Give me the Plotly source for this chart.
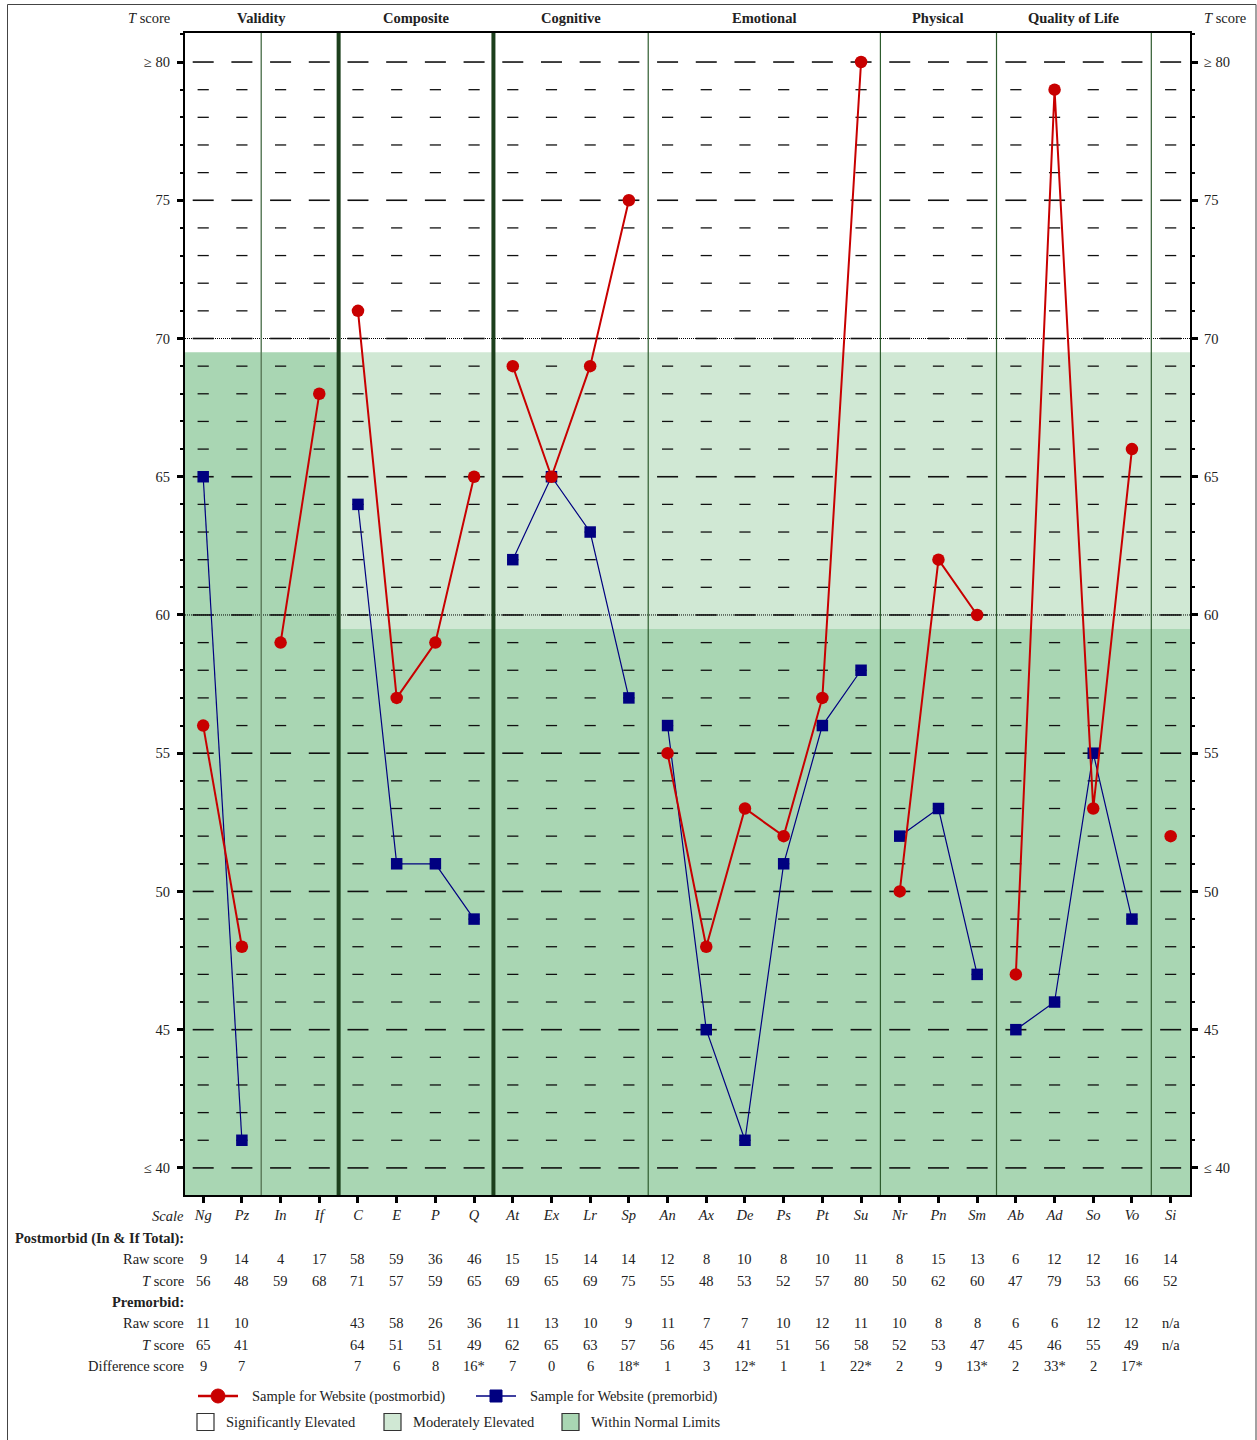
import plotly.graph_objects as go

# ---------------- data ----------------
scales = ["Ng", "Pz", "In", "If", "C", "E", "P", "Q", "At", "Ex", "Lr", "Sp",
          "An", "Ax", "De", "Ps", "Pt", "Su", "Nr", "Pn", "Sm", "Ab", "Ad", "So", "Vo", "Si"]
group_names = ["Validity", "Composite", "Cognitive", "Emotional", "Physical", "Quality of Life"]
group_centers = [1.5, 5.5, 9.5, 14.5, 19, 22.5]
line_segments = [(0, 1), (2, 3), (4, 7), (8, 11), (12, 17), (18, 20), (21, 24), (25, 25)]

post_raw = [9, 14, 4, 17, 58, 59, 36, 46, 15, 15, 14, 14, 12, 8, 10, 8, 10, 11, 8, 15, 13, 6, 12, 12, 16, 14]
post_t = [56, 48, 59, 68, 71, 57, 59, 65, 69, 65, 69, 75, 55, 48, 53, 52, 57, 80, 50, 62, 60, 47, 79, 53, 66, 52]
pre_raw = [11, 10, None, None, 43, 58, 26, 36, 11, 13, 10, 9, 11, 7, 7, 10, 12, 11, 10, 8, 8, 6, 6, 12, 12, "n/a"]
pre_t = [65, 41, None, None, 64, 51, 51, 49, 62, 65, 63, 57, 56, 45, 41, 51, 56, 58, 52, 53, 47, 45, 46, 55, 49, None]
pre_t_text = [65, 41, None, None, 64, 51, 51, 49, 62, 65, 63, 57, 56, 45, 41, 51, 56, 58, 52, 53, 47, 45, 46, 55, 49, "n/a"]
diff_score = ["9", "7", "", "", "7", "6", "8", "16*", "7", "0", "6", "18*", "1", "3", "12*", "1", "1",
              "22*", "2", "9", "13*", "2", "33*", "2", "17*", ""]

y_tickvals = [40, 45, 50, 55, 60, 65, 70, 75, 80]
y_ticktext = ["\u2264 40", "45", "50", "55", "60", "65", "70", "75", "\u2265 80"]

legend_series = ["Sample for Website (postmorbid)", "Sample for Website (premorbid)"]
legend_zones = ["Significantly Elevated", "Moderately Elevated", "Within Normal Limits"]

# ---------------- style ----------------
W, H = 1257, 1440
L, R, T, B = 185, 1190, 33, 1195
FONT = "Liberation Serif"
FS = 14.5
RED = "#c80000"
BLUE = "#000080"
DARK_G = "#a9d6b3"
LIGHT_G = "#d0e8d4"
XR = [-0.47, 25.5]
YR = [39.02, 81.05]


def px(x):
    return (x - L) / (R - L)


def py(y):
    return (B - y) / (B - T)


fig = go.Figure()

# dash grid inside every column
maj_x, maj_y, min_x, min_y = [], [], [], []
for i in range(len(scales)):
    for v in range(40, 81):
        if v % 5 == 0:
            maj_x.append(i); maj_y.append(v)
        else:
            min_x.append(i); min_y.append(v)
fig.add_trace(go.Scatter(x=maj_x, y=maj_y, mode="markers", hoverinfo="skip", showlegend=False,
                         marker=dict(symbol="line-ew", size=15, line=dict(width=1.6, color="#111"))))
fig.add_trace(go.Scatter(x=min_x, y=min_y, mode="markers", hoverinfo="skip", showlegend=False,
                         marker=dict(symbol="line-ew", size=8, line=dict(width=1.3, color="#111"))))


def seg_xy(vals):
    xs, ys = [], []
    for a, b in line_segments:
        for i in range(a, b + 1):
            xs.append(i); ys.append(vals[i])
        xs.append(None); ys.append(None)
    return xs, ys


bx, by = seg_xy(pre_t)
fig.add_trace(go.Scatter(x=bx, y=by, mode="lines+markers", name=legend_series[1], showlegend=False,
                         line=dict(color=BLUE, width=1.2),
                         marker=dict(symbol="square", size=11.5, color=BLUE)))
rx, ry = seg_xy(post_t)
fig.add_trace(go.Scatter(x=rx, y=ry, mode="lines+markers", name=legend_series[0], showlegend=False,
                         line=dict(color=RED, width=2),
                         marker=dict(symbol="circle", size=12.5, color=RED)))
# dummy trace for right axis
fig.add_trace(go.Scatter(x=[None], y=[None], yaxis="y2", showlegend=False, hoverinfo="skip"))

shapes = []
# shading
shapes.append(dict(type="rect", xref="x", yref="y", x0=XR[0], x1=3.5, y0=YR[0], y1=69.5,
                   fillcolor=DARK_G, line_width=0, layer="below"))
shapes.append(dict(type="rect", xref="x", yref="y", x0=3.5, x1=XR[1], y0=59.5, y1=69.5,
                   fillcolor=LIGHT_G, line_width=0, layer="below"))
shapes.append(dict(type="rect", xref="x", yref="y", x0=3.5, x1=XR[1], y0=YR[0], y1=59.5,
                   fillcolor=DARK_G, line_width=0, layer="below"))
# dotted reference lines
for v in (60, 70):
    shapes.append(dict(type="line", xref="x", yref="y", x0=XR[0], x1=XR[1], y0=v, y1=v,
                       line=dict(color="black", width=1, dash="1px,1px"), layer="below"))
# group separators
seps = [(1.5, "#5f7f5f", 1.5), (3.5, "#1c3f1c", 4), (7.5, "#1c3f1c", 4), (11.5, "#2e5b2e", 1.2),
        (17.5, "#2e5b2e", 1.2), (20.5, "#2e5b2e", 1.2), (24.5, "#2e5b2e", 1.2)]
for xv, c, w in seps:
    shapes.append(dict(type="line", xref="x", yref="y", x0=xv, x1=xv, y0=YR[0], y1=YR[1],
                       line=dict(color=c, width=w), layer="below"))

# outer frame
shapes.append(dict(type="rect", xref="paper", yref="paper", x0=px(7.5), x1=px(1256), y0=py(1446), y1=py(4.5),
                   line=dict(color="#444", width=1), fillcolor="rgba(0,0,0,0)"))

annotations = []
# headers
annotations.append(dict(x=px(172), y=py(18), xref="paper", yref="paper", text="<i>T</i> score",
                        showarrow=False, xanchor="right", yanchor="middle"))
annotations.append(dict(x=px(1202), y=py(18), xref="paper", yref="paper", text="<i>T</i> score",
                        showarrow=False, xanchor="left", yanchor="middle"))
for name, cx in zip(group_names, group_centers):
    annotations.append(dict(x=cx, y=py(18), xref="x", yref="paper", text="<b>%s</b>" % name,
                            showarrow=False, xanchor="center", yanchor="middle"))

# table
row_y = {"scale": 1216, "post": 1238, "post_raw": 1259, "post_t": 1281, "pre": 1302,
         "pre_raw": 1323, "pre_t": 1345, "diff": 1366}
labels = [("scale", "<i>Scale</i>"), ("post", "<b>Postmorbid (In & If Total):</b>"),
          ("post_raw", "Raw score"), ("post_t", "<i>T</i> score"), ("pre", "<b>Premorbid:</b>"),
          ("pre_raw", "Raw score"), ("pre_t", "<i>T</i> score"), ("diff", "Difference score")]
for key, txt in labels:
    annotations.append(dict(x=px(186), y=py(row_y[key]), xref="paper", yref="paper", text=txt,
                            showarrow=False, xanchor="right", yanchor="middle"))
for key, vals in [("post_raw", post_raw), ("post_t", post_t), ("pre_raw", pre_raw),
                  ("pre_t", pre_t_text), ("diff", diff_score)]:
    for i, v in enumerate(vals):
        if v is None or v == "":
            continue
        annotations.append(dict(x=i, y=py(row_y[key]), xref="x", yref="paper", text=str(v),
                                showarrow=False, xanchor="center", yanchor="middle"))

# legend (drawn)
ly1, ly2 = 1396, 1422
for (x0, x1, c, sym, w), txt, tx in zip(
        [(198, 238, RED, "circle", 2.5), (476, 516, BLUE, "square", 1.5)], legend_series, [250, 528]):
    shapes.append(dict(type="line", xref="paper", yref="paper", x0=px(x0), x1=px(x1), y0=py(ly1), y1=py(ly1),
                       line=dict(color=c, width=w)))
    cxm = (x0 + x1) / 2
    r = 7 if sym == "circle" else 6
    shapes.append(dict(type="circle" if sym == "circle" else "rect", xref="paper", yref="paper",
                       x0=px(cxm - r), x1=px(cxm + r), y0=py(ly1 + r), y1=py(ly1 - r),
                       fillcolor=c, line=dict(color=c, width=1)))
    annotations.append(dict(x=px(tx), y=py(ly1), xref="paper", yref="paper", text=txt, showarrow=False,
                            xanchor="left", yanchor="middle"))
for bx0, fc, txt in zip([197, 384, 562], ["white", LIGHT_G, DARK_G], legend_zones):
    shapes.append(dict(type="rect", xref="paper", yref="paper", x0=px(bx0), x1=px(bx0 + 17),
                       y0=py(ly2 + 8.5), y1=py(ly2 - 8.5), fillcolor=fc, line=dict(color="#333", width=1.2)))
    annotations.append(dict(x=px(bx0 + 27), y=py(ly2), xref="paper", yref="paper", text=txt, showarrow=False,
                            xanchor="left", yanchor="middle"))

yax = dict(range=YR, tickvals=y_tickvals, ticktext=y_ticktext, ticks="outside", ticklen=6, tickwidth=2.5,
           tickcolor="black", showgrid=False, zeroline=False, showline=True, linewidth=2, linecolor="black",
           ticklabelstandoff=4,
           minor=dict(dtick=1, ticks="outside", ticklen=3, tickwidth=1.5, tickcolor="black", tick0=40))
yax2 = dict(yax)
yax2.update(overlaying="y", side="right", anchor="x", ticklabelstandoff=3)

fig.update_layout(
    width=W, height=H,
    margin=dict(l=L, r=W - R, t=T, b=H - B, pad=0),
    paper_bgcolor="white", plot_bgcolor="white",
    font=dict(family=FONT, size=FS, color="#222"),
    showlegend=False,
    xaxis=dict(range=XR, tickvals=list(range(len(scales))), ticktext=["<i>%s</i>" % s for s in scales],
               ticks="outside", ticklen=6, tickwidth=2.5, tickcolor="black", showgrid=False, zeroline=False,
               showline=True, linewidth=2, linecolor="black", mirror=True),
    yaxis=yax, yaxis2=yax2,
    shapes=shapes, annotations=annotations,
)

fig.write_html("out.html", config={"displayModeBar": False},
               post_script="document.body.style.margin='0';document.body.style.overflow='hidden';")
